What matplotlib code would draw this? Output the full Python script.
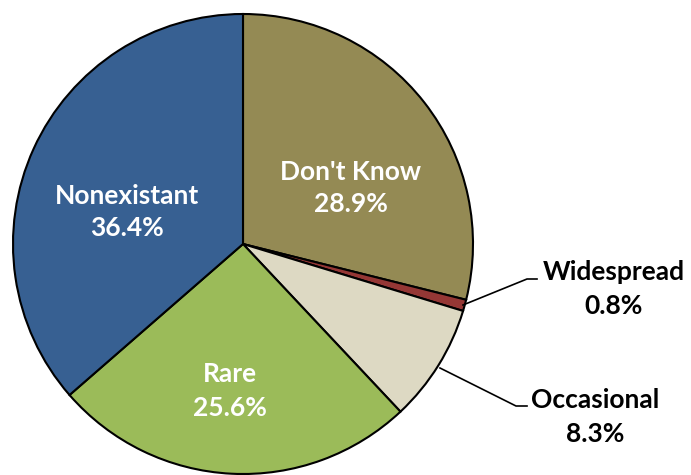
import matplotlib
matplotlib.use("Agg")
import matplotlib.pyplot as plt

labels = ["Don't Know", "Widespread", "Occasional", "Rare", "Nonexistant"]
shares = [28.9, 0.8, 8.3, 25.6, 36.4]
colors = ["#948A54", "#953735", "#DDD9C3", "#9BBB59", "#376092"]

W, H = 691, 475
fig = plt.figure(figsize=(W / 100, H / 100), dpi=100)
ax = fig.add_axes([0, 0, 1, 1])

cx, cy, r = 243, H - 244, 230
wedges, _ = ax.pie(shares, colors=colors, startangle=90, counterclock=False,
                   center=(cx, cy), radius=r, frame=True,
                   wedgeprops=dict(edgecolor="black", linewidth=1.5))
ax.set_xlim(0, W)
ax.set_ylim(0, H)
ax.set_aspect("equal")
ax.axis("off")

font = dict(family="Lato", fontweight="bold", fontsize=19)

# labels inside the slices (pixel positions from the top)
inside = {"Don't Know": (351, 188), "Rare": (230, 391), "Nonexistant": (127, 212)}
for lab, (x, y) in inside.items():
    v = shares[labels.index(lab)]
    ax.text(x, H - y, f"{lab}\n{v}%", color="white", ha="center", va="center",
            linespacing=1.45, **font)

# outside labels with leader lines
outside = {"Widespread": ((463, 305), (527, 279), (537, 279), (614, 289)),
           "Occasional": ((440, 368), (516, 406), (527, 406), (595, 417))}
for lab, (p0, p1, p2, t) in outside.items():
    v = shares[labels.index(lab)]
    ax.plot([p0[0], p1[0], p2[0]], [H - p0[1], H - p1[1], H - p2[1]],
            color="black", linewidth=1.2)
    ax.text(t[0], H - t[1], f"{lab}\n{v}%", color="black", ha="center",
            va="center", linespacing=1.45, **font)

fig.savefig("out.png", dpi=100)
